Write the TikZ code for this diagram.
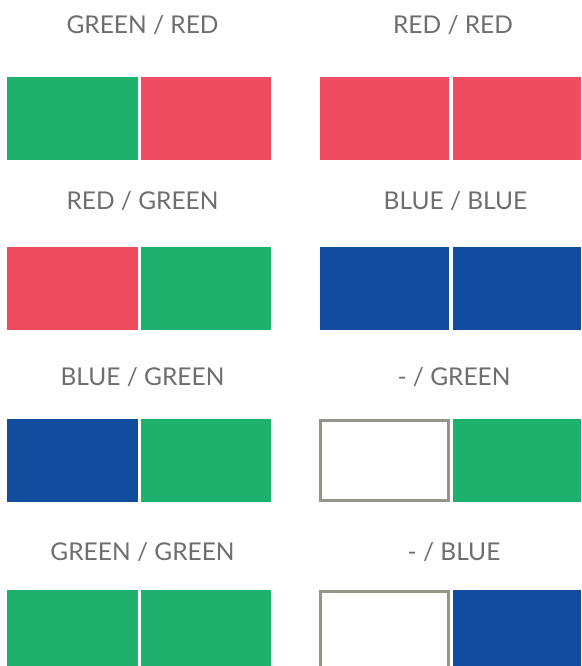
\documentclass[tikz,border=0pt]{standalone}
\usepackage{fontspec}
\setmainfont{Lato}
\usetikzlibrary{positioning}
\definecolor{swgreen}{HTML}{1EB16D}
\definecolor{swred}{HTML}{EF4D5F}
\definecolor{swblue}{HTML}{114C9F}
\definecolor{emptyborder}{HTML}{94948A}
\definecolor{labeltext}{HTML}{6D6E71}

\begin{document}
\begin{tikzpicture}[
  x=1pt, y=-1pt,
  swatch/.style={rectangle, draw=none, anchor=north west, minimum width=131pt, minimum height=83pt, inner sep=0pt, outer sep=0pt},
  emptybox/.style={swatch, draw=emptyborder, line width=3pt, fill=white, minimum width=128pt, minimum height=80pt},
  pairlbl/.style={text=labeltext, font=\fontsize{24.5}{28}\selectfont, inner sep=0pt}
]
  \useasboundingbox (0,0) rectangle (581,666);
  \clip (0,0) rectangle (581,666);

  % Row 1
  \node[pairlbl] (l1) at (142.5, 25.5) {GREEN / RED};
  \node[swatch, fill=swgreen] (l1a) at (7, 77) {};
  \node[swatch, fill=swred, minimum width=130pt] (l1b) at (141, 77) {};
  \node[pairlbl] (r1) at (453, 25.5) {RED / RED};
  \node[swatch, fill=swred, minimum width=129pt] (r1a) at (320, 77) {};
  \node[swatch, fill=swred, minimum width=128pt] (r1b) at (453, 77) {};

  % Row 2
  \node[pairlbl] (l2) at (142.5, 201.5) {RED / GREEN};
  \node[swatch, fill=swred] (l2a) at (7, 247) {};
  \node[swatch, fill=swgreen, minimum width=130pt] (l2b) at (141, 247) {};
  \node[pairlbl] (r2) at (455.5, 201.5) {BLUE / BLUE};
  \node[swatch, fill=swblue, minimum width=129pt] (r2a) at (320, 247) {};
  \node[swatch, fill=swblue, minimum width=128pt] (r2b) at (453, 247) {};

  % Row 3
  \node[pairlbl] (l3) at (142.5, 377.5) {BLUE / GREEN};
  \node[swatch, fill=swblue] (l3a) at (7, 419) {};
  \node[swatch, fill=swgreen, minimum width=130pt] (l3b) at (141, 419) {};
  \node[pairlbl] (r3) at (454, 377.5) {- / GREEN};
  \node[emptybox] (r3a) at (320.5, 420.5) {};
  \node[swatch, fill=swgreen, minimum width=128pt] (r3b) at (453, 419) {};

  % Row 4
  \node[pairlbl] (l4) at (142.5, 552.5) {GREEN / GREEN};
  \node[swatch, fill=swgreen] (l4a) at (7, 590) {};
  \node[swatch, fill=swgreen, minimum width=130pt] (l4b) at (141, 590) {};
  \node[pairlbl] (r4) at (454, 552.5) {- / BLUE};
  \node[emptybox] (r4a) at (320.5, 591.5) {};
  \node[swatch, fill=swblue, minimum width=128pt] (r4b) at (453, 590) {};

\end{tikzpicture}
\end{document}
